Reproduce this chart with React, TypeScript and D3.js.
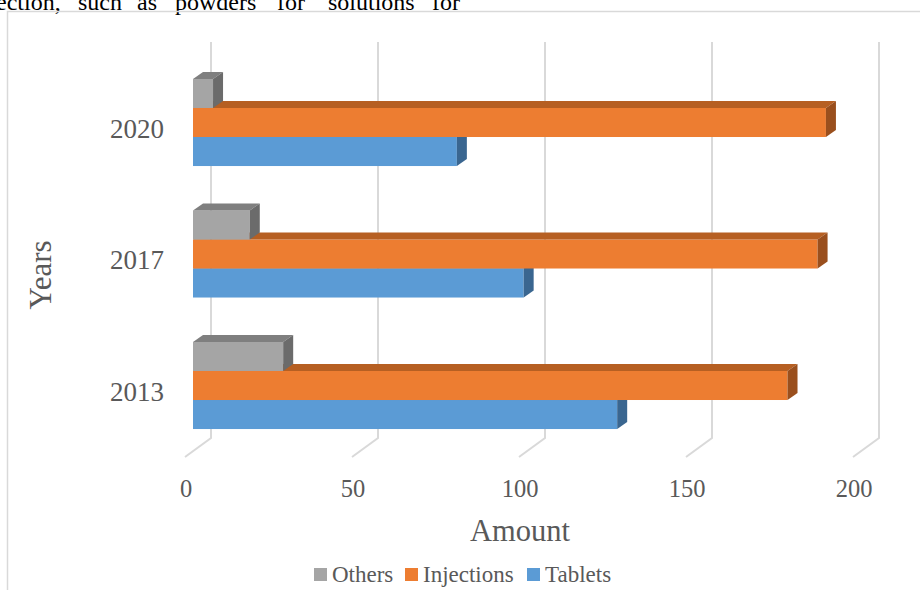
import React from "react";
import * as d3 from "d3";

const years = ["2020", "2017", "2013"];
const seriesNames = ["Others", "Injections", "Tablets"];
const others = [6, 17, 27];
const injections = [189.5, 187, 178];
const tablets = [79, 99, 127];
const xTicks = [0, 50, 100, 150, 200];
const topWords = ["ection,", "such", "as", "powders", "for", "solutions", "for"];
const topWordX = [-4, 78, 137, 175, 277, 328, 432];

const colors: Record<string, { front: string; top: string; side: string }> = {
  Others: { front: "#A5A5A5", top: "#7F7F7F", side: "#6B6B6B" },
  Injections: { front: "#ED7D31", top: "#B65F22", side: "#9A4F1D" },
  Tablets: { front: "#5B9BD5", top: "#4878A8", side: "#3A6690" },
};

const FONT = "'Liberation Serif', 'Times New Roman', serif";
const TXT = "#595959";

export default function App() {
  const W = 920, H = 590;
  const dx = 10, dy = 7; // bar depth
  const wallTop = 42, wallBottom = 438;
  const floorDx = 26, floorDy = 19;

  const xBack = d3.scaleLinear().domain([0, 200]).range([211, 879]);
  const xFront = d3.scaleLinear().domain([0, 200]).range([193, 861]);
  const yGroup = d3.scaleBand<string>().domain(years).range([56.75, 451.25]).paddingInner(0.338).paddingOuter(0.169);
  const ySeries = d3.scaleBand<string>().domain(seriesNames).range([0, yGroup.bandwidth()]);

  const valuesBySeries: Record<string, number[]> = { Others: others, Injections: injections, Tablets: tablets };
  const drawOrder = ["Tablets", "Injections", "Others"];

  const bars: JSX.Element[] = [];
  years.forEach((yr, gi) => {
    drawOrder.forEach((s) => {
      const v = valuesBySeries[s][gi];
      const x0 = xFront(0), x1 = xFront(v);
      const y0 = (yGroup(yr) as number) + (ySeries(s) as number);
      const y1 = y0 + ySeries.bandwidth();
      const c = colors[s];
      bars.push(
        <g key={yr + s}>
          <rect x={x0} y={y0} width={x1 - x0} height={y1 - y0} fill={c.front} />
          <polygon points={`${x0},${y0} ${x0 + dx},${y0 - dy} ${x1 + dx},${y0 - dy} ${x1},${y0}`} fill={c.top} />
          <polygon points={`${x1},${y0} ${x1 + dx},${y0 - dy} ${x1 + dx},${y1 - dy} ${x1},${y1}`} fill={c.side} />
        </g>
      );
    });
  });

  const legendX = [314, 405, 527];

  return (
    <svg width={W} height={H} style={{ position: "absolute", left: 0, top: 0 }} fontFamily={FONT}>
      <rect x={0} y={0} width={W} height={H} fill="#fff" />
      {topWords.map((w, i) => (
        <text key={i} x={topWordX[i]} y={9.5} fontSize={24} fill="#000">{w}</text>
      ))}
      <rect x={7.5} y={11.5} width={1000} height={1000} fill="none" stroke="#D9D9D9" strokeWidth={1.5} />

      {xTicks.map((t) => (
        <g key={t}>
          <polyline
            points={`${xBack(t)},${wallTop} ${xBack(t)},${wallBottom} ${xBack(t) - floorDx},${wallBottom + floorDy}`}
            fill="none" stroke="#D9D9D9" strokeWidth={2}
          />
          <text x={xBack(t) - floorDx + 1} y={497} fontSize={24.5} fill={TXT} textAnchor="middle">{t}</text>
        </g>
      ))}

      {bars}

      {years.map((yr) => (
        <text key={yr} x={164} y={(yGroup(yr) as number) + yGroup.bandwidth() / 2 + 15} fontSize={27} fill={TXT} textAnchor="end">{yr}</text>
      ))}

      <text transform="translate(51,275) rotate(-90)" fontSize={31} fill={TXT} textAnchor="middle">Years</text>
      <text x={520} y={541} fontSize={30.5} fill={TXT} textAnchor="middle">Amount</text>

      {seriesNames.map((s, i) => (
        <g key={s}>
          <rect x={legendX[i]} y={568} width={13} height={13} fill={colors[s].front} />
          <text x={legendX[i] + 18} y={582} fontSize={23} fill={TXT}>{s}</text>
        </g>
      ))}
    </svg>
  );
}
